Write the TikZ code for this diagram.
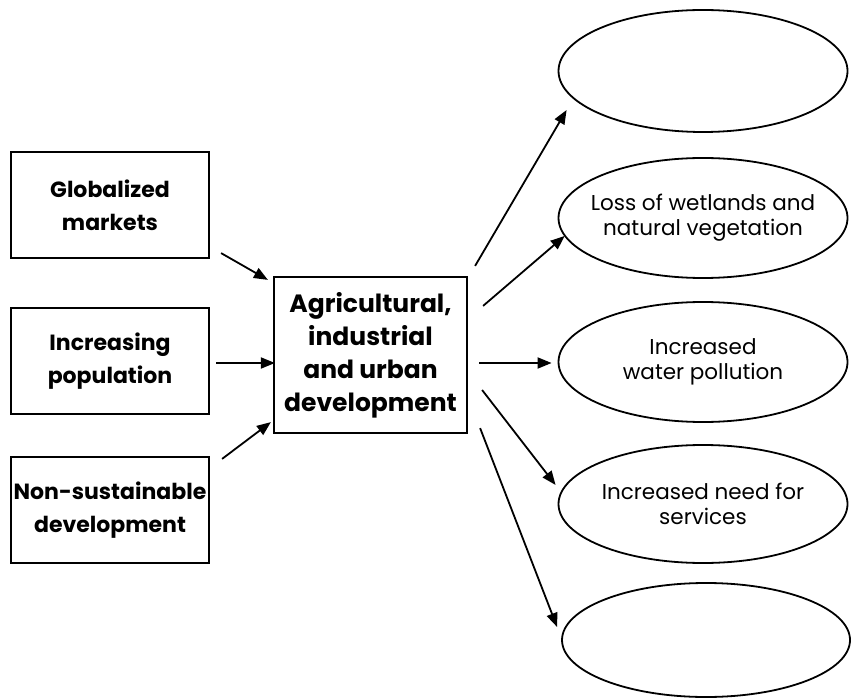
\documentclass[tikz,border=0pt]{standalone}
\usepackage{fontspec}
\setmainfont{Poppins}
\usepackage{tikz}
\usetikzlibrary{shapes.geometric}
\usetikzlibrary{arrows.meta}

\tikzset{
  cause/.style={draw, line width=2.2pt, minimum width=198pt, minimum height=106pt,
                align=center, inner sep=2pt, font=\fontsize{22}{33}\selectfont\bfseries},
  effect/.style={draw, ellipse, line width=1.8pt, minimum width=289pt, minimum height=120pt,
                 inner xsep=-25pt, inner ysep=0pt, align=center, font=\fontsize{21.5}{25}\selectfont},
  link/.style={-{Triangle[length=14pt,width=11pt]}, line width=1.8pt}
}

\begin{document}
\begin{tikzpicture}[x=1pt, y=-1pt]
            \useasboundingbox (0,0) rectangle (853,700);
            \node[cause] (glob) at (110,205) {Globalized\\markets};
            \node[cause] (pop) at (110,361) {Increasing\\population};
            \node[cause] (nonsus) at (110,510) {Non-sustainable\\development};
            \node[cause, minimum width=193pt, minimum height=156pt,
                  font=\fontsize{25}{33}\selectfont\bfseries] (dev) at (370.5,355)
                  {Agricultural,\\industrial\\and urban\\development};
            \node[effect, minimum height=122pt] (ell1) at (703,71) {};
            \node[effect] (ell2) at (703,218) {Loss of wetlands and\\natural vegetation};
            \node[effect] (ell3) at (703,362) {Increased\\water pollution};
            \node[effect, minimum height=118pt] (ell4) at (703,504) {Increased need for\\services};
            \node[effect, minimum height=114pt, minimum width=288pt] (ell5) at (706,640) {};
            \draw[link] ([xshift=11pt,yshift=6pt]glob.south east) --
                  ([xshift=-5pt,yshift=-4pt]dev.north west);
            \draw[link] ([xshift=6pt,yshift=-2pt]pop.east) --
                  ([xshift=2pt,yshift=-8pt]dev.west);
            \draw[link] ([xshift=12pt,yshift=-3pt]nonsus.north east) --
                  ([xshift=-2pt,yshift=12pt]dev.south west);
            \draw[link] ([xshift=7pt,yshift=10pt]dev.north east) --
                  ([xshift=9pt,yshift=-39pt]ell1.west);
            \draw[link] ([xshift=15pt,yshift=-30pt]dev.north east) --
                  ([xshift=7pt,yshift=-18pt]ell2.west);
            \draw[link] ([xshift=11pt,yshift=-8pt]dev.east) --
                  ([xshift=-6pt,yshift=-1pt]ell3.west);
            \draw[link] ([xshift=14pt,yshift=-35pt]dev.east) --
                  ([xshift=-2pt,yshift=19pt]ell4.west);
            \draw[link] ([xshift=12pt,yshift=6pt]dev.south east) --
                  ([xshift=-4pt,yshift=13pt]ell5.west);
        \end{tikzpicture}
\end{document}
